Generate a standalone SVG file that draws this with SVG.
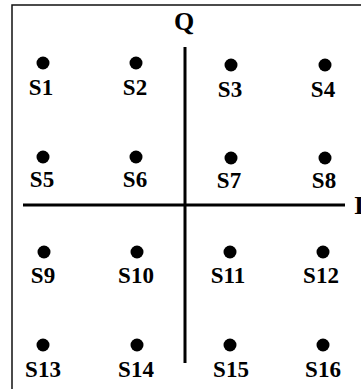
<svg xmlns="http://www.w3.org/2000/svg" width="361" height="389" viewBox="0 0 361 389">
<style>
.lbl{font-family:"Liberation Serif","Times New Roman",serif;font-weight:bold;font-size:23px;fill:#000;text-anchor:middle}
.ax{font-family:"Liberation Serif","Times New Roman",serif;font-weight:bold;font-size:26px;fill:#000}
.dot{fill:#000}
.axis{stroke:#000;stroke-width:3;fill:none}
</style>
<rect x="12" y="5" width="360" height="400" fill="#fff" stroke="#111" stroke-width="1.5"/>
<g id="connectors">
<line class="axis" x1="23" y1="205" x2="345" y2="205"/>
<line class="axis" x1="185" y1="47" x2="185" y2="363"/>
</g>
<g id="Q"><text class="ax" x="184" y="30" text-anchor="middle">Q</text></g>
<g id="I"><text class="ax" x="354" y="214">I</text></g>
<g id="S1"><circle class="dot" cx="43" cy="63" r="6.5"/><text class="lbl" x="41" y="95">S1</text></g>
<g id="S2"><circle class="dot" cx="136" cy="63" r="6.5"/><text class="lbl" x="135" y="95">S2</text></g>
<g id="S3"><circle class="dot" cx="231" cy="65" r="6.5"/><text class="lbl" x="230" y="97">S3</text></g>
<g id="S4"><circle class="dot" cx="325" cy="65" r="6.5"/><text class="lbl" x="323" y="97">S4</text></g>
<g id="S5"><circle class="dot" cx="43" cy="157" r="6.5"/><text class="lbl" x="42" y="187">S5</text></g>
<g id="S6"><circle class="dot" cx="136" cy="157" r="6.5"/><text class="lbl" x="135" y="187">S6</text></g>
<g id="S7"><circle class="dot" cx="231" cy="158" r="6.5"/><text class="lbl" x="229" y="188">S7</text></g>
<g id="S8"><circle class="dot" cx="325" cy="158" r="6.5"/><text class="lbl" x="324" y="188">S8</text></g>
<g id="S9"><circle class="dot" cx="44" cy="252" r="6.5"/><text class="lbl" x="43" y="283">S9</text></g>
<g id="S10"><circle class="dot" cx="137" cy="252" r="6.5"/><text class="lbl" x="136" y="283">S10</text></g>
<g id="S11"><circle class="dot" cx="230" cy="252" r="6.5"/><text class="lbl" x="228" y="283">S11</text></g>
<g id="S12"><circle class="dot" cx="323" cy="252" r="6.5"/><text class="lbl" x="321" y="283">S12</text></g>
<g id="S13"><circle class="dot" cx="43" cy="345" r="6.5"/><text class="lbl" x="43" y="377">S13</text></g>
<g id="S14"><circle class="dot" cx="137" cy="345" r="6.5"/><text class="lbl" x="136" y="377">S14</text></g>
<g id="S15"><circle class="dot" cx="230" cy="345" r="6.5"/><text class="lbl" x="231" y="377">S15</text></g>
<g id="S16"><circle class="dot" cx="323" cy="345" r="6.5"/><text class="lbl" x="323" y="377">S16</text></g>
</svg>
